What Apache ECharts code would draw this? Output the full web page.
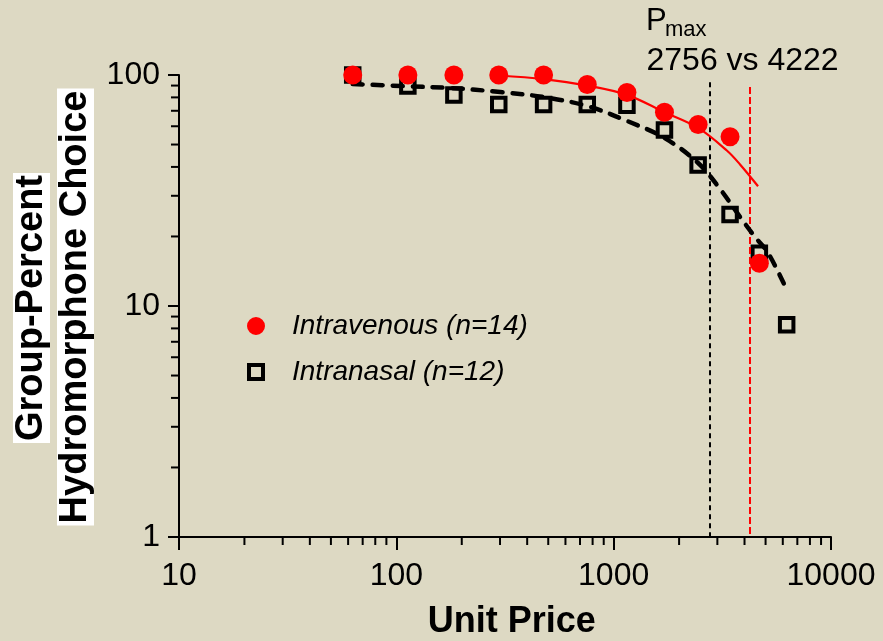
<!DOCTYPE html>
<html>
<head>
<meta charset="utf-8">
<title>Hydromorphone demand curves</title>
<script src="https://cdn.jsdelivr.net/npm/echarts@6/dist/echarts.min.js"></script>
<style>
  html, body { margin: 0; padding: 0; background: #ddd9c3; }
  #chart { width: 883px; height: 641px; }
</style>
</head>
<body>
<div id="chart"></div>
<script>
// Unit prices at which choice was measured
const unitPrices = [63, 113, 184, 296, 476, 756, 1151, 1713, 2447, 3432, 4681, 6252];

// Group-percent hydromorphone choice per route
const intravenousChoice = [100, 100, 100, 100, 100, 91, 84, 69, 61, 54, 15.3];
const intranasalChoice = [100, 89.6, 82, 74.5, 74.5, 74.5, 74, 57.8, 40.8, 24.9, 16.9, 8.3];

// Fitted demand curves (price, percent)
const ivFitPrice = [296, 476, 756, 1151, 1713, 2447, 3326, 3815, 4616];
const ivFitChoice = [99.5, 96, 90, 82, 69, 59, 47, 41, 33];
const inFitPrice = [63, 105, 178, 301, 475, 756, 1155, 1713, 2447, 3088, 3815, 4472, 5130, 6272];
const inFitChoice = [91.4, 89.6, 87.8, 84.4, 80.3, 73.4, 63.2, 53.4, 41.6, 32.1, 24.3, 19.9, 17.0, 11.7];

// Pmax estimates
const pmaxIntranasal = 2756;
const pmaxIntravenous = 4222;

// Minor tick positions on the log axes
const xMinorTicks = [20, 30, 40, 50, 60, 70, 80, 90, 200, 300, 400, 500, 600, 700, 800, 900,
                     2000, 3000, 4000, 5000, 6000, 7000, 8000, 9000];
const yMinorTicks = [2, 3, 4, 5, 6, 7, 8, 9, 20, 30, 40, 50, 60, 70, 80, 90];

const FONT = "'Liberation Sans', Arial, Helvetica, sans-serif";

function pairs(xs, ys) {
  return ys.map((y, i) => [xs[i], y]);
}

const chart = echarts.init(document.getElementById('chart'), null, { renderer: 'canvas' });

function minorTickSeries(values, horizontal) {
  return {
    type: 'custom',
    coordinateSystem: 'cartesian2d',
    silent: true,
    clip: false,
    z: 3,
    data: values.map(v => horizontal ? [v, 1] : [10, v]),
    renderItem: function (params, api) {
      const p = api.coord([api.value(0), api.value(1)]);
      const shape = horizontal
        ? { x1: p[0], y1: p[1], x2: p[0], y2: p[1] + 8 }
        : { x1: p[0], y1: p[1], x2: p[0] - 8, y2: p[1] };
      return { type: 'line', shape: shape, style: { stroke: '#000', lineWidth: 2 } };
    }
  };
}

const option = {
  backgroundColor: '#ddd9c3',
  animation: false,
  textStyle: { fontFamily: FONT },
  grid: { left: 179, right: 52, top: 75, bottom: 104, containLabel: false, outerBoundsMode: 'none' },
  legend: {
    orient: 'vertical',
    left: 242,
    top: 307,
    itemWidth: 14,
    itemHeight: 14,
    itemGap: 18,
    selectedMode: false,
    textStyle: {
      fontSize: 28, fontStyle: 'italic', color: '#000', fontFamily: FONT,
      padding: [0, 0, 0, 24]
    },
    data: [
      { name: 'Intravenous (n=14)', icon: 'circle',
        itemStyle: { color: '#ff0000', borderColor: '#ff0000', borderWidth: 4, opacity: 1 } },
      { name: 'Intranasal (n=12)', icon: 'rect',
        itemStyle: { color: 'rgba(0,0,0,0)', borderColor: '#000', borderWidth: 4, opacity: 1 } }
    ]
  },
  xAxis: {
    type: 'log',
    logBase: 10,
    min: 10,
    max: 10000,
    splitLine: { show: false },
    axisLine: { lineStyle: { color: '#000', width: 2 } },
    axisTick: { length: 13, lineStyle: { color: '#000', width: 2 } },
    axisLabel: {
      fontSize: 32, color: '#000', margin: 23, fontFamily: FONT,
      formatter: function (v) { return String(Math.round(v)); }
    }
  },
  yAxis: {
    type: 'log',
    logBase: 10,
    min: 1,
    max: 100,
    splitLine: { show: false },
    axisLine: { lineStyle: { color: '#000', width: 2 } },
    axisTick: { length: 11, lineStyle: { color: '#000', width: 2 } },
    axisLabel: {
      fontSize: 32, color: '#000', margin: 19, fontFamily: FONT,
      formatter: function (v) { return String(Math.round(v)); }
    }
  },
  graphic: [
    {
      type: 'text', x: 31.5, y: 308, rotation: Math.PI / 2,
      style: {
        text: 'Group-Percent', fontSize: 38, fontWeight: 'bold', fontFamily: FONT,
        fill: '#000', align: 'center', verticalAlign: 'middle',
        backgroundColor: '#ffffff', padding: [0, 2], lineHeight: 37
      }
    },
    {
      type: 'text', x: 75.5, y: 307, rotation: Math.PI / 2,
      style: {
        text: 'Hydromorphone Choice', fontSize: 38, fontWeight: 'bold', fontFamily: FONT,
        fill: '#000', align: 'center', verticalAlign: 'middle',
        backgroundColor: '#ffffff', padding: [0, 2], lineHeight: 37
      }
    },
    {
      type: 'text', x: 511.7, y: 622.5,
      style: {
        text: 'Unit Price', fontSize: 36, fontWeight: 'bold', fontFamily: FONT,
        fill: '#000', align: 'center', verticalAlign: 'middle'
      }
    },
    {
      type: 'text', x: 646, y: 21,
      style: { text: 'P', fontSize: 31, fontFamily: FONT, fill: '#000', align: 'left', verticalAlign: 'middle' }
    },
    {
      type: 'text', x: 665, y: 30,
      style: { text: 'max', fontSize: 22, fontFamily: FONT, fill: '#000', align: 'left', verticalAlign: 'middle' }
    },
    {
      type: 'text', x: 646.5, y: 61.5,
      style: {
        text: pmaxIntranasal + ' vs ' + pmaxIntravenous, fontSize: 32, fontFamily: FONT,
        fill: '#000', align: 'left', verticalAlign: 'middle'
      }
    }
  ],
  series: [
    minorTickSeries(xMinorTicks, true),
    minorTickSeries(yMinorTicks, false),
    {
      name: 'Intranasal (n=12)',
      type: 'scatter',
      symbol: 'rect',
      symbolSize: 13.5,
      z: 4,
      itemStyle: { color: 'rgba(0,0,0,0)', borderColor: '#000', borderWidth: 4, opacity: 1 },
      data: pairs(unitPrices, intranasalChoice)
    },
    {
      name: 'Intranasal fit',
      type: 'line',
      showSymbol: false,
      smooth: 0.35,
      silent: true,
      z: 5,
      lineStyle: { color: '#000', width: 4.5, type: [10, 10], cap: 'round' },
      data: pairs(inFitPrice, inFitChoice),
      markLine: {
        silent: true,
        symbol: ['none', 'none'],
        label: { show: false },
        lineStyle: { color: '#000', width: 2, type: [5, 4] },
        data: [[{ coord: [pmaxIntranasal, 93] }, { coord: [pmaxIntranasal, 1] }]]
      }
    },
    {
      name: 'Intravenous fit',
      type: 'line',
      showSymbol: false,
      smooth: 0.35,
      silent: true,
      z: 6,
      lineStyle: { color: '#ff0000', width: 2.2 },
      data: pairs(ivFitPrice, ivFitChoice),
      markLine: {
        silent: true,
        symbol: ['none', 'none'],
        label: { show: false },
        lineStyle: { color: '#ff0000', width: 2, type: [7, 3] },
        data: [[{ coord: [pmaxIntravenous, 88.7] }, { coord: [pmaxIntravenous, 1] }]]
      }
    },
    {
      name: 'Intravenous (n=14)',
      type: 'scatter',
      symbol: 'circle',
      symbolSize: 19,
      z: 7,
      itemStyle: { color: '#ff0000', opacity: 1 },
      data: pairs(unitPrices, intravenousChoice)
    }
  ]
};

chart.setOption(option);
</script>
</body>
</html>
